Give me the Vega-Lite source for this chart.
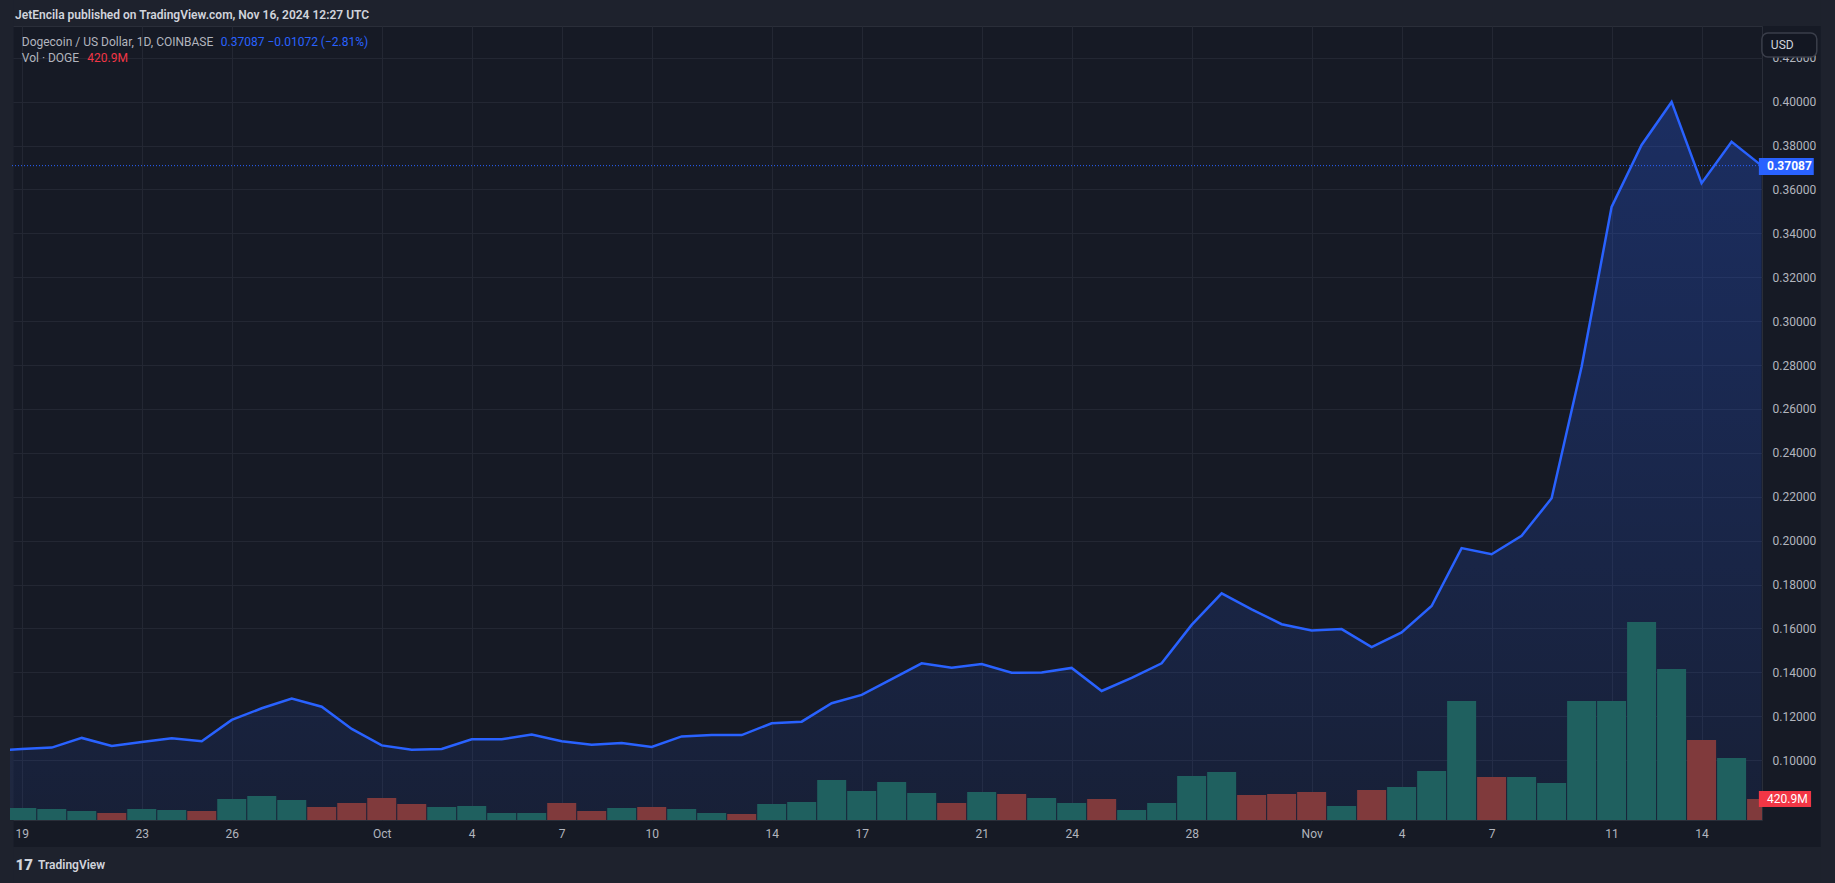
{
  "$schema": "https://vega.github.io/schema/vega-lite/v6.json",
  "width": 1752,
  "height": 794,
  "autosize": {"type": "none"},
  "padding": {"left": 10, "top": 26, "right": 73, "bottom": 63},
  "datasets": {
    "daily": [
      {"date": "2024-09-18", "close": 0.1040, "volume": null, "dir": "up"},
      {"date": "2024-09-19", "close": 0.1051, "volume": 240, "dir": "up"},
      {"date": "2024-09-20", "close": 0.1057, "volume": 220, "dir": "up"},
      {"date": "2024-09-21", "close": 0.1101, "volume": 180, "dir": "up"},
      {"date": "2024-09-22", "close": 0.1064, "volume": 140, "dir": "down"},
      {"date": "2024-09-23", "close": 0.1082, "volume": 220, "dir": "up"},
      {"date": "2024-09-24", "close": 0.1099, "volume": 200, "dir": "up"},
      {"date": "2024-09-25", "close": 0.1086, "volume": 180, "dir": "down"},
      {"date": "2024-09-26", "close": 0.1183, "volume": 421, "dir": "up"},
      {"date": "2024-09-27", "close": 0.1236, "volume": 481, "dir": "up"},
      {"date": "2024-09-28", "close": 0.1280, "volume": 401, "dir": "up"},
      {"date": "2024-09-29", "close": 0.1243, "volume": 261, "dir": "down"},
      {"date": "2024-09-30", "close": 0.1142, "volume": 341, "dir": "down"},
      {"date": "2024-10-01", "close": 0.1067, "volume": 441, "dir": "down"},
      {"date": "2024-10-02", "close": 0.1047, "volume": 321, "dir": "down"},
      {"date": "2024-10-03", "close": 0.1051, "volume": 261, "dir": "up"},
      {"date": "2024-10-04", "close": 0.1095, "volume": 281, "dir": "up"},
      {"date": "2024-10-05", "close": 0.1095, "volume": 140, "dir": "up"},
      {"date": "2024-10-06", "close": 0.1116, "volume": 140, "dir": "up"},
      {"date": "2024-10-07", "close": 0.1086, "volume": 341, "dir": "down"},
      {"date": "2024-10-08", "close": 0.1070, "volume": 180, "dir": "down"},
      {"date": "2024-10-09", "close": 0.1078, "volume": 240, "dir": "up"},
      {"date": "2024-10-10", "close": 0.1060, "volume": 261, "dir": "down"},
      {"date": "2024-10-11", "close": 0.1108, "volume": 220, "dir": "up"},
      {"date": "2024-10-12", "close": 0.1114, "volume": 140, "dir": "up"},
      {"date": "2024-10-13", "close": 0.1114, "volume": 120, "dir": "down"},
      {"date": "2024-10-14", "close": 0.1168, "volume": 321, "dir": "up"},
      {"date": "2024-10-15", "close": 0.1175, "volume": 361, "dir": "up"},
      {"date": "2024-10-16", "close": 0.1259, "volume": 802, "dir": "up"},
      {"date": "2024-10-17", "close": 0.1297, "volume": 581, "dir": "up"},
      {"date": "2024-10-18", "close": 0.1369, "volume": 762, "dir": "up"},
      {"date": "2024-10-19", "close": 0.1441, "volume": 541, "dir": "up"},
      {"date": "2024-10-20", "close": 0.1421, "volume": 341, "dir": "down"},
      {"date": "2024-10-21", "close": 0.1438, "volume": 561, "dir": "up"},
      {"date": "2024-10-22", "close": 0.1398, "volume": 521, "dir": "down"},
      {"date": "2024-10-23", "close": 0.1399, "volume": 441, "dir": "up"},
      {"date": "2024-10-24", "close": 0.1420, "volume": 341, "dir": "up"},
      {"date": "2024-10-25", "close": 0.1315, "volume": 421, "dir": "down"},
      {"date": "2024-10-26", "close": 0.1375, "volume": 200, "dir": "up"},
      {"date": "2024-10-27", "close": 0.1441, "volume": 341, "dir": "up"},
      {"date": "2024-10-28", "close": 0.1616, "volume": 882, "dir": "up"},
      {"date": "2024-10-29", "close": 0.1760, "volume": 962, "dir": "up"},
      {"date": "2024-10-30", "close": 0.1687, "volume": 501, "dir": "down"},
      {"date": "2024-10-31", "close": 0.1619, "volume": 521, "dir": "down"},
      {"date": "2024-11-01", "close": 0.1591, "volume": 561, "dir": "down"},
      {"date": "2024-11-02", "close": 0.1597, "volume": 281, "dir": "up"},
      {"date": "2024-11-03", "close": 0.1515, "volume": 601, "dir": "down"},
      {"date": "2024-11-04", "close": 0.1582, "volume": 661, "dir": "up"},
      {"date": "2024-11-05", "close": 0.1702, "volume": 982, "dir": "up"},
      {"date": "2024-11-06", "close": 0.1966, "volume": 2385, "dir": "up"},
      {"date": "2024-11-07", "close": 0.1938, "volume": 862, "dir": "down"},
      {"date": "2024-11-08", "close": 0.2022, "volume": 862, "dir": "up"},
      {"date": "2024-11-09", "close": 0.2193, "volume": 741, "dir": "up"},
      {"date": "2024-11-10", "close": 0.2792, "volume": 2385, "dir": "up"},
      {"date": "2024-11-11", "close": 0.3521, "volume": 2385, "dir": "up"},
      {"date": "2024-11-12", "close": 0.3803, "volume": 3968, "dir": "up"},
      {"date": "2024-11-13", "close": 0.3999, "volume": 3026, "dir": "up"},
      {"date": "2024-11-14", "close": 0.3629, "volume": 1603, "dir": "down"},
      {"date": "2024-11-15", "close": 0.3817, "volume": 1242, "dir": "up"},
      {"date": "2024-11-16", "close": 0.37087, "volume": 420.9, "dir": "down"}
    ]
  },
  "resolve": {"scale": {"y": "independent"}},
  "layer": [
    {
      "layer": [
        {
          "data": {"values": [{}]},
          "mark": {"type": "rect", "color": "#1e222d", "clip": false},
          "encoding": {
            "x": {"datum": {"year": 2024, "month": 9, "date": 1, "utc": true}},
            "x2": {"datum": {"year": 2024, "month": 12, "date": 1, "utc": true}},
            "y": {"datum": 0.4345},
            "y2": {"datum": 0.6}
          }
        },
        {
          "data": {"values": [{}]},
          "mark": {"type": "rect", "color": "#1e222d", "clip": false},
          "encoding": {
            "x": {"datum": {"year": 2024, "month": 9, "date": 1, "utc": true}},
            "x2": {"datum": {"year": 2024, "month": 12, "date": 1, "utc": true}},
            "y": {"datum": 0.0604},
            "y2": {"datum": -0.1}
          }
        },
        {
          "data": {"values": [{}]},
          "mark": {"type": "rect", "color": "#1e222d", "clip": false},
          "encoding": {
            "x": {"datum": {"year": 2024, "month": 9, "date": 1, "utc": true}},
            "x2": {"datum": {"year": 2024, "month": 9, "date": 18, "hours": 17, "minutes": 30, "utc": true}},
            "y": {"datum": -0.1},
            "y2": {"datum": 0.6}
          }
        },
        {
          "data": {"values": [{}]},
          "mark": {"type": "rect", "color": "#1e222d", "clip": false},
          "encoding": {
            "x": {"datum": {"year": 2024, "month": 11, "date": 17, "hours": 23, "minutes": 17, "utc": true}},
            "x2": {"datum": {"year": 2024, "month": 12, "date": 1, "utc": true}},
            "y": {"datum": -0.1},
            "y2": {"datum": 0.6}
          }
        },
        {
          "data": {"name": "daily"},
          "mark": {
            "type": "area", "clip": true,
            "color": {"x1": 0, "y1": 0, "x2": 0, "y2": 1, "gradient": "linear", "stops": [{"offset": 0, "color": "rgba(41,98,255,0.28)"}, {"offset": 1, "color": "rgba(41,98,255,0.04)"}]}
          },
          "encoding": {
            "x": {
              "field": "date", "type": "temporal", "title": null,
              "scale": {"type": "utc", "nice": false, "domain": ["2024-09-18T18:35:00Z", "2024-11-15T20:20:00Z"]},
              "axis": {
                "title": null,
                "values": ["2024-09-19", "2024-09-23", "2024-09-26", "2024-10-01", "2024-10-04", "2024-10-07", "2024-10-10", "2024-10-14", "2024-10-17", "2024-10-21", "2024-10-24", "2024-10-28", "2024-11-01", "2024-11-04", "2024-11-07", "2024-11-11", "2024-11-14"],
                "labelExpr": "utcdate(datum.value) == 1 ? utcFormat(datum.value, '%b') : utcFormat(datum.value, '%-d')",
                "labelPadding": 8, "labelFlush": false, "labelOverlap": false, "grid": true, "orient": "bottom"
              }
            },
            "y": {
              "field": "close", "type": "quantitative", "title": null,
              "scale": {"domain": [0.0727, 0.4345], "nice": false, "zero": false},
              "axis": {
                "title": null, "orient": "right", "format": ".5f", "labelAlign": "left", "labelPadding": 10, "grid": true,
                "values": [0.10, 0.12, 0.14, 0.16, 0.18, 0.20, 0.22, 0.24, 0.26, 0.28, 0.30, 0.32, 0.34, 0.36, 0.38, 0.40, 0.42]
              }
            }
          }
        },
        {
          "data": {"name": "daily"},
          "mark": {"type": "line", "color": "#2962ff", "strokeWidth": 2.5, "clip": true},
          "encoding": {
            "x": {"field": "date", "type": "temporal"},
            "y": {"field": "close", "type": "quantitative"}
          }
        },
        {
          "data": {"values": [{}]},
          "mark": {"type": "rule", "color": "#2962ff", "strokeWidth": 1, "strokeDash": [1, 2]},
          "encoding": {"y": {"datum": 0.37087}}
        },
        {
          "data": {"values": [{}]},
          "mark": {"type": "rect", "color": "#2962ff", "clip": false},
          "encoding": {
            "x": {"datum": {"year": 2024, "month": 11, "date": 15, "hours": 21, "minutes": 50, "utc": true}},
            "x2": {"datum": {"year": 2024, "month": 11, "date": 17, "hours": 17, "minutes": 45, "utc": true}},
            "y": {"datum": 0.3743},
            "y2": {"datum": 0.3666}
          }
        },
        {
          "data": {"values": [{}]},
          "mark": {"type": "text", "text": "0.37087", "color": "#ffffff", "font": "Roboto", "fontSize": 12, "fontWeight": "bold", "align": "left", "baseline": "middle", "clip": false},
          "encoding": {
            "x": {"datum": {"year": 2024, "month": 11, "date": 16, "hours": 4, "minutes": 20, "utc": true}},
            "y": {"datum": 0.37087}
          }
        },
        {
          "data": {"values": [{}]},
          "mark": {"type": "rect", "fill": "#131722", "stroke": "#3a3e4a", "strokeWidth": 1.5, "cornerRadius": 6, "clip": false},
          "encoding": {
            "x": {"datum": {"year": 2024, "month": 11, "date": 16, "hours": 0, "minutes": 15, "utc": true}},
            "x2": {"datum": {"year": 2024, "month": 11, "date": 17, "hours": 20, "minutes": 10, "utc": true}},
            "y": {"datum": 0.4313},
            "y2": {"datum": 0.4204}
          }
        },
        {
          "data": {"values": [{}]},
          "mark": {"type": "text", "text": "USD", "color": "#d1d4dc", "font": "Roboto", "fontSize": 12, "align": "left", "baseline": "middle", "clip": false},
          "encoding": {
            "x": {"datum": {"year": 2024, "month": 11, "date": 16, "hours": 7, "minutes": 26, "utc": true}},
            "y": {"datum": 0.4258}
          }
        },
        {
          "data": {"values": [{}]},
          "mark": {"type": "text", "text": "JetEncila published on TradingView.com, Nov 16, 2024 12:27 UTC", "color": "#d1d4dc", "font": "Roboto", "fontSize": 12, "fontWeight": 600, "align": "left", "baseline": "middle", "clip": false},
          "encoding": {
            "x": {"datum": {"year": 2024, "month": 9, "date": 18, "hours": 18, "minutes": 35, "utc": true}},
            "y": {"datum": 0.4395}
          }
        },
        {
          "data": {"values": [{}]},
          "mark": {"type": "text", "text": "Dogecoin / US Dollar, 1D, COINBASE", "color": "#b2b5be", "font": "Roboto", "fontSize": 12, "align": "left", "baseline": "middle"},
          "encoding": {
            "x": {"datum": {"year": 2024, "month": 9, "date": 19, "utc": true}},
            "y": {"datum": 0.4273}
          }
        },
        {
          "data": {"values": [{}]},
          "mark": {"type": "text", "text": "0.37087  −0.01072 (−2.81%)", "color": "#2962ff", "font": "Roboto", "fontSize": 12, "align": "left", "baseline": "middle"},
          "encoding": {
            "x": {"datum": {"year": 2024, "month": 9, "date": 25, "hours": 15, "minutes": 14, "utc": true}},
            "y": {"datum": 0.4273}
          }
        },
        {
          "data": {"values": [{}]},
          "mark": {"type": "text", "text": "Vol · DOGE", "color": "#b2b5be", "font": "Roboto", "fontSize": 12, "align": "left", "baseline": "middle"},
          "encoding": {
            "x": {"datum": {"year": 2024, "month": 9, "date": 19, "utc": true}},
            "y": {"datum": 0.4198}
          }
        },
        {
          "data": {"values": [{}]},
          "mark": {"type": "text", "text": "420.9M", "color": "#f23645", "font": "Roboto", "fontSize": 12, "align": "left", "baseline": "middle"},
          "encoding": {
            "x": {"datum": {"year": 2024, "month": 9, "date": 21, "hours": 4, "minutes": 25, "utc": true}},
            "y": {"datum": 0.4198}
          }
        },
        {
          "data": {"values": [{}]},
          "mark": {"type": "text", "text": "17", "color": "#d1d4dc", "font": "Roboto", "fontSize": 15, "fontWeight": 900, "align": "left", "baseline": "middle", "clip": false},
          "encoding": {
            "x": {"datum": {"year": 2024, "month": 9, "date": 18, "hours": 19, "minutes": 0, "utc": true}},
            "y": {"datum": 0.0522}
          }
        },
        {
          "data": {"values": [{}]},
          "mark": {"type": "text", "text": "TradingView", "color": "#d1d4dc", "font": "Roboto", "fontSize": 12, "fontWeight": 600, "align": "left", "baseline": "middle", "clip": false},
          "encoding": {
            "x": {"datum": {"year": 2024, "month": 9, "date": 19, "hours": 13, "minutes": 0, "utc": true}},
            "y": {"datum": 0.0522}
          }
        }
      ]
    },
    {
      "layer": [
        {
          "data": {"name": "daily"},
          "mark": {"type": "bar", "width": 29, "clip": true},
          "encoding": {
            "x": {"field": "date", "type": "temporal"},
            "y": {"field": "volume", "type": "quantitative", "axis": null, "scale": {"domain": [0, 15913], "nice": false}},
            "color": {"field": "dir", "type": "nominal", "legend": null, "scale": {"domain": ["up", "down"], "range": ["#1f605f", "#803a3c"]}}
          }
        },
        {
          "data": {"values": [{}]},
          "mark": {"type": "rect", "color": "#f23645", "clip": false},
          "encoding": {
            "x": {"datum": {"year": 2024, "month": 11, "date": 15, "hours": 21, "minutes": 50, "utc": true}},
            "x2": {"datum": {"year": 2024, "month": 11, "date": 17, "hours": 15, "minutes": 36, "utc": true}},
            "y": {"datum": 260, "axis": null},
            "y2": {"datum": 581}
          }
        },
        {
          "data": {"values": [{}]},
          "mark": {"type": "text", "text": "420.9M", "color": "#ffffff", "font": "Roboto", "fontSize": 12, "align": "left", "baseline": "middle", "clip": false},
          "encoding": {
            "x": {"datum": {"year": 2024, "month": 11, "date": 16, "hours": 4, "minutes": 20, "utc": true}},
            "y": {"datum": 420.9, "axis": null}
          }
        }
      ]
    }
  ],
  "config": {
    "background": "#161a25",
    "view": {"stroke": "#2a2e39", "strokeWidth": 1},
    "font": "Roboto",
    "axis": {"domain": false, "ticks": false, "gridColor": "#232733", "gridWidth": 1, "labelColor": "#b2b5be", "labelFontSize": 12, "labelFont": "Roboto"}
  }
}
